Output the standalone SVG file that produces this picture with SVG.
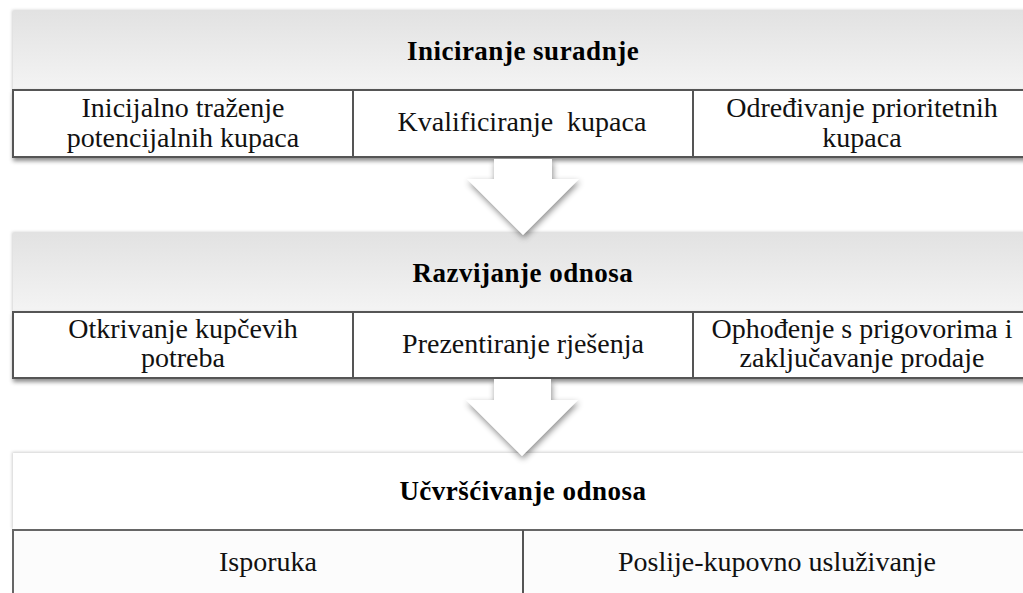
<svg xmlns="http://www.w3.org/2000/svg" width="1023" height="593" viewBox="0 0 1023 593">
  <defs>
    <linearGradient id="hdr" x1="0" y1="0" x2="0" y2="1">
      <stop offset="0" stop-color="#e2e2e2"/>
      <stop offset="1" stop-color="#f4f4f4"/>
    </linearGradient>
    <filter id="boxShadow" x="-5%" y="-20%" width="110%" height="150%">
      <feDropShadow dx="1" dy="3" stdDeviation="2" flood-color="#000" flood-opacity="0.45"/>
    </filter>
    <filter id="hdrShadow" x="-5%" y="-20%" width="110%" height="140%">
      <feDropShadow dx="-1" dy="-1" stdDeviation="1.5" flood-color="#000" flood-opacity="0.18"/>
    </filter>
    <filter id="arrowShadow" x="-30%" y="-20%" width="160%" height="150%">
      <feDropShadow dx="1" dy="3" stdDeviation="3" flood-color="#000" flood-opacity="0.45"/>
    </filter>
  </defs>
  <style>
    .title { font-family: 'Liberation Serif', 'Times New Roman', serif; font-weight: bold; font-size: 27px; letter-spacing: 0.5px; fill: #000; text-anchor: middle; }
    .cell { font-family: 'Liberation Serif', 'Times New Roman', serif; font-size: 28px; fill: #111; text-anchor: middle; }
    .row { fill: #fff; stroke: #555; stroke-width: 2; }
    .row3 { fill: #fcfcfc; stroke: #666; stroke-width: 2; }
    .div { stroke: #555; stroke-width: 2; }
    .arrow { fill: #fff; }
  </style>
  <rect width="1023" height="593" fill="#fff"/>

  <g id="stage1">
    <rect x="13" y="11" width="1030" height="80" fill="url(#hdr)" filter="url(#hdrShadow)"/>
    <text class="title" x="523" y="60">Iniciranje suradnje</text>
    <rect class="row" x="13" y="90" width="1030" height="67" filter="url(#boxShadow)"/>
    <line class="div" x1="353" y1="90" x2="353" y2="157"/>
    <line class="div" x1="693" y1="90" x2="693" y2="157"/>
    <g id="s1c1">
      <text class="cell" x="183" y="117">Inicijalno traženje</text>
      <text class="cell" x="183" y="147">potencijalnih kupaca</text>
    </g>
    <g id="s1c2">
      <text class="cell" x="522" y="131" xml:space="preserve">Kvalificiranje  kupaca</text>
    </g>
    <g id="s1c3">
      <text class="cell" x="862" y="117">Određivanje prioritetnih</text>
      <text class="cell" x="862" y="147">kupaca</text>
    </g>
  </g>

  <g id="stage2">
    <rect x="13" y="233" width="1030" height="80" fill="url(#hdr)" filter="url(#hdrShadow)"/>
    <text class="title" x="523" y="282">Razvijanje odnosa</text>
    <rect class="row" x="13" y="312" width="1030" height="66" filter="url(#boxShadow)"/>
    <line class="div" x1="353" y1="312" x2="353" y2="378"/>
    <line class="div" x1="693" y1="312" x2="693" y2="378"/>
    <g id="s2c1">
      <text class="cell" x="183" y="338">Otkrivanje kupčevih</text>
      <text class="cell" x="183" y="367">potreba</text>
    </g>
    <g id="s2c2">
      <text class="cell" x="523" y="353">Prezentiranje rješenja</text>
    </g>
    <g id="s2c3">
      <text class="cell" x="862" y="338">Ophođenje s prigovorima i</text>
      <text class="cell" x="862" y="367">zaključavanje prodaje</text>
    </g>
  </g>

  <g id="stage3">
    <rect x="13" y="453" width="1030" height="77" fill="#fff" filter="url(#hdrShadow)"/>
    <text class="title" x="523" y="500">Učvršćivanje odnosa</text>
    <rect class="row3" x="13" y="530" width="1030" height="80"/>
    <line class="div" x1="523" y1="530" x2="523" y2="600"/>
    <g id="s3c1">
      <text class="cell" x="268" y="571">Isporuka</text>
    </g>
    <g id="s3c2">
      <text class="cell" x="777" y="571">Poslije-kupovno usluživanje</text>
    </g>
  </g>

  <g id="connectors">
    <polygon class="arrow" filter="url(#arrowShadow)" points="494,159 552,159 552,179 579,179 523,235 467,179 494,179"/>
    <polygon class="arrow" filter="url(#arrowShadow)" points="494,379 551,379 551,400 578,400 522,456 466,400 494,400"/>
  </g>
</svg>
